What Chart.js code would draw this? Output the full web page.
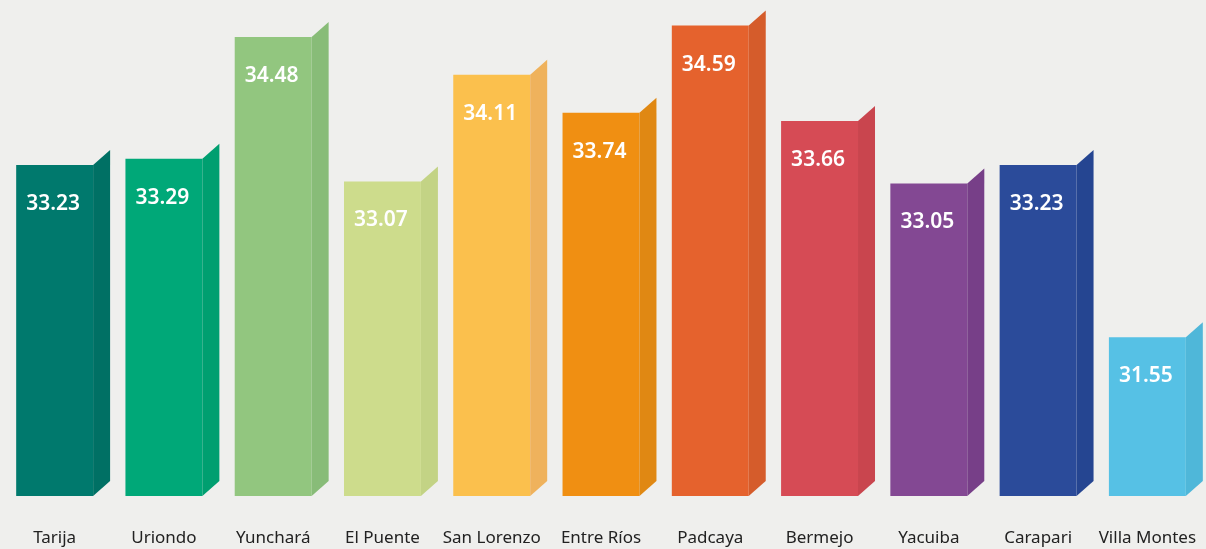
<!DOCTYPE html>
<html>
<head>
<meta charset="utf-8">
<script src="https://cdn.jsdelivr.net/npm/chart.js@4.4.1/dist/chart.umd.min.js"></script>
<style>
html, body { margin: 0; padding: 0; background: #efefed; }
canvas { display: block; }
</style>
</head>
<body>
<canvas id="chart" width="1206" height="549"></canvas>
<script>
// Valores por municipio del departamento de Tarija

const municipios = ["Tarija", "Uriondo", "Yunchará", "El Puente", "San Lorenzo", "Entre Ríos",
    "Padcaya", "Bermejo", "Yacuiba", "Carapari", "Villa Montes"];

const valores = [33.23, 33.29, 34.48, 33.07, 34.11, 33.74, 34.59, 33.66, 33.05, 33.23, 31.55];

const coloresFrente = ["#00796d", "#00a878", "#92c67f", "#cddc8c", "#fbc04d", "#f08f12",
    "#e5622d", "#d64b55", "#834893", "#2b4b9a", "#56c1e5"];

const coloresLado = ["#007064", "#009f70", "#88bc78", "#c3d385", "#efb25c", "#e08813",
    "#d55c2b", "#c9454e", "#773f88", "#254591", "#4fb7d9"];

const fondo = 17;   // profundidad horizontal de la cara lateral
const alzada = 15;  // subida de la cara lateral


// cara lateral de cada barra y etiqueta con el valor
const caraLateral = {
    id: "caraLateral",
    afterDatasetsDraw(chart) {
        const ctx = chart.ctx;
        const meta = chart.getDatasetMeta(0);
        const base = chart.chartArea.bottom;

        meta.data.forEach((bar, i) => {
            const right = bar.x + bar.width / 2;
            const top = bar.y;

            ctx.save();
            ctx.fillStyle = coloresLado[i];
            ctx.beginPath();
            ctx.moveTo(right, top);
            ctx.lineTo(right + fondo, top - alzada);
            ctx.lineTo(right + fondo, base - alzada);
            ctx.lineTo(right, base);
            ctx.closePath();
            ctx.fill();

            ctx.fillStyle = "#ffffff";
            ctx.font = "600 21px 'Noto Sans', sans-serif";
            ctx.textAlign = "center";
            ctx.textBaseline = "middle";
            ctx.fillText(valores[i].toFixed(2), bar.x - 1.5, top + 39);
            ctx.restore();
        });
    }
};


new Chart(document.getElementById("chart"), {
    type: "bar",
    data: {
        labels: municipios,
        datasets: [{
            data: valores,
            backgroundColor: coloresFrente,
            borderWidth: 0,
            barPercentage: 0.704,
            categoryPercentage: 1
        }]
    },
    options: {
        responsive: false,
        animation: false,
        layout: {
            padding: { left: 0, right: 4, top: 0, bottom: 0 }
        },
        plugins: {
            legend: { display: false },
            tooltip: { enabled: false }
        },
        scales: {
            x: {
                grid: { display: false, drawTicks: false },
                border: { display: false },
                ticks: {
                    color: "#222222",
                    font: { family: "'Noto Sans', sans-serif", size: 17 },
                    padding: 32,
                    autoSkip: false,
                    maxRotation: 0
                },
                afterFit(scale) {
                    scale.height = 53;
                    scale.paddingLeft = 0;
                    scale.paddingRight = 0;
                }
            },
            y: {
                display: false,
                min: 30,
                max: 34.84
            }
        }
    },
    plugins: [caraLateral]
});
</script>
</body>
</html>
